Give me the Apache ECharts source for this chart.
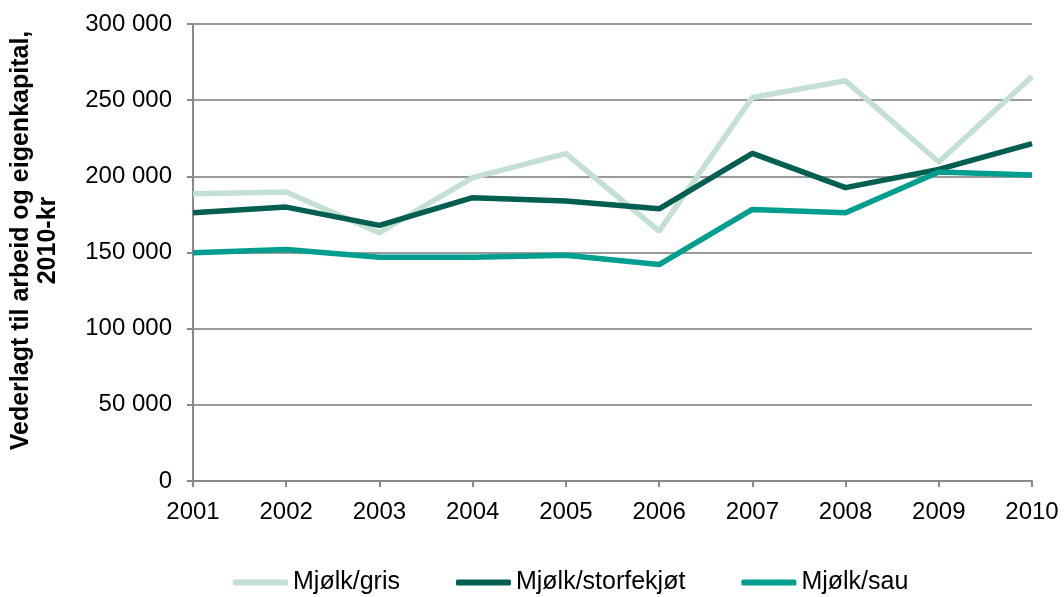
<!DOCTYPE html>
<html>
<head>
<meta charset="utf-8">
<script src="https://cdn.jsdelivr.net/npm/echarts@6/dist/echarts.min.js"></script>
<style>
    html, body { margin: 0; padding: 0; background: #fff; }
    #chart { width: 1064px; height: 597px; }
</style>
</head>
<body>
<div id="chart"></div>
<script>
    var years = ['2001', '2002', '2003', '2004', '2005', '2006', '2007', '2008', '2009', '2010'];
    var mjolkGris = [188600, 189700, 163000, 199100, 214900, 164000, 251800, 262700, 209400, 265600];
    var mjolkStorfekjot = [176100, 179800, 167800, 186000, 183800, 178700, 215100, 192600, 204600, 221500];
    var mjolkSau = [149800, 152000, 146900, 146900, 148200, 142100, 178300, 176100, 202800, 200900];

    var font = '"Liberation Sans", Arial, sans-serif';

    function line(name, data, color) {
        return {
            name: name,
            type: 'line',
            data: data,
            symbol: 'none',
            lineStyle: { color: color, width: 5.5 },
            itemStyle: { color: color }
        };
    }

    var chart = echarts.init(document.getElementById('chart'));
    chart.setOption({
        animation: false,
        textStyle: { fontFamily: font },
        grid: { left: 193, right: 32, top: 24, bottom: 116, outerBoundsMode: 'none', containLabel: false },
        legend: {
            top: 565,
            left: 228,
            icon: 'roundRect',
            itemWidth: 55,
            itemHeight: 6,
            itemGap: 56,
            textStyle: { fontSize: 25, color: '#000', fontFamily: font },
            data: ['Mjølk/gris', 'Mjølk/storfekjøt', 'Mjølk/sau']
        },
        xAxis: {
            type: 'category',
            boundaryGap: false,
            data: years,
            axisLine: { lineStyle: { color: '#898989', width: 2 } },
            axisTick: { alignWithLabel: true, length: 6, lineStyle: { color: '#898989', width: 2 } },
            axisLabel: { fontSize: 24, color: '#000', margin: 19, fontFamily: font }
        },
        yAxis: {
            type: 'value',
            min: 0,
            max: 300000,
            interval: 50000,
            name: 'Vederlagt til arbeid og eigenkapital,\n2010-kr',
            nameLocation: 'middle',
            nameGap: 131,
            nameTextStyle: {
                fontSize: 25, fontWeight: 'bold', color: '#000', fontFamily: font,
                lineHeight: 27, padding: [0, 0, 0, 24]
            },
            axisLine: { show: true, lineStyle: { color: '#898989', width: 2 } },
            axisTick: { show: true, length: 6, lineStyle: { color: '#898989', width: 2 } },
            splitLine: { lineStyle: { color: '#9a9a9a', width: 2 } },
            axisLabel: {
                fontSize: 24,
                color: '#000',
                margin: 21,
                fontFamily: font,
                formatter: function (v) {
                    return String(v).replace(/\B(?=(\d{3})+(?!\d))/g, ' ');
                }
            }
        },
        series: [
            line('Mjølk/gris', mjolkGris, '#c3e0d2'),
            line('Mjølk/storfekjøt', mjolkStorfekjot, '#005f50'),
            line('Mjølk/sau', mjolkSau, '#009e8e')
        ]
    });
</script>
</body>
</html>
